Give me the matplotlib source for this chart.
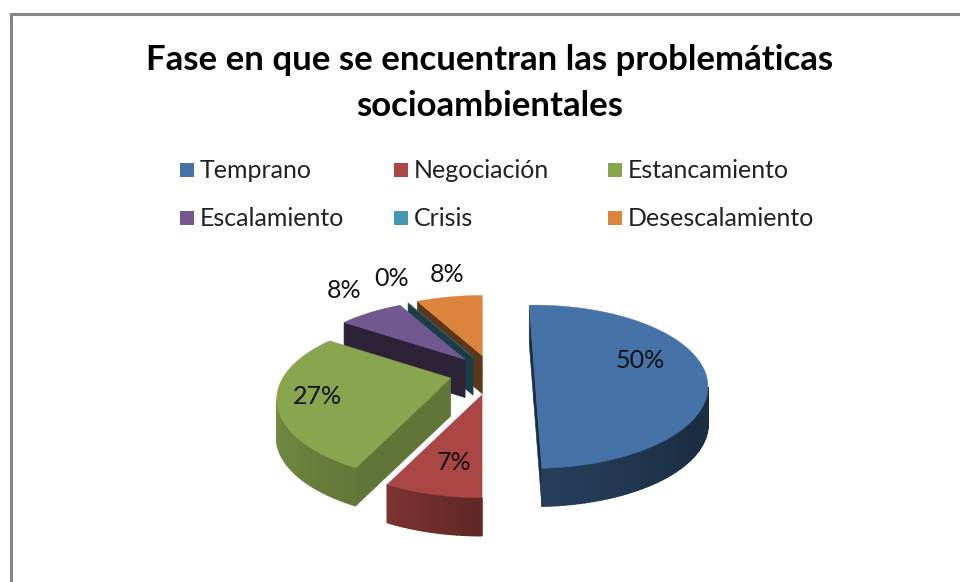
import numpy as np
import matplotlib
matplotlib.use("Agg")
import matplotlib.pyplot as plt

title = "Fase en que se encuentran las problemáticas\nsocioambientales"
categories = ["Temprano", "Negociación", "Estancamiento", "Escalamiento", "Crisis", "Desescalamiento"]
# labels show them rounded
values = [50, 7.1, 27.4, 7.6, 0, 7.9]
colors = ["#4572A7", "#AA4643", "#89A54E", "#71588F", "#4198AF", "#DB843D"]

# label centres in pixels
label_x = [640, 454, 317, 344, 392, 447]
label_y = [361, 462, 396, 291, 278, 275]
label_font = 18

# legend layout in pixels
legend_x = [187, 401, 615, 187, 401, 615]
legend_y = [170, 170, 170, 218, 218, 218]

# fake 3d pie
start_angle = 92
explode = 0.25
cx, cy = 492, 373
rx, ry = 168, 76
persp = 0.262
depth = 38
wall_dark = [0.4, 0.5, 0.71, 0.4, 0.4, 0.42]
nudge_y = [-7, 2, 0, 0, 0, 0]
rotate = [0, -2, -2, -2, -2, -2]
draw_order = [5, 4, 3, 2, 1, 0]


def project(x, y):
    s = 1 / (1 + persp * y)
    return rx * x * s, -ry * y * s


def shade(color, f):
    rgb = np.array(matplotlib.colors.to_rgb(color))
    return tuple(rgb * f)


def rim_factor(a):
    # a in degrees, wrapped to -360..0
    a = (a + 360) % 360 - 360
    return np.interp(a, [-270, -180, -113, -88, -40, 0], [0.8, 0.88, 0.72, 0.55, 0.4, 0.4])


plt.rcParams["font.family"] = ["Lato", "DejaVu Sans"]
fig = plt.figure(figsize=(9.6, 5.82), dpi=100)
ax = fig.add_axes([0, 0, 1, 1])
ax.set_xlim(0, 960)
ax.set_ylim(582, 0)
ax.axis("off")

# chart frame, only top and left are inside the crop
ax.plot([11, 11, 960], [582, 14, 14], color="#868686", lw=2.2, solid_joinstyle="miter")

ax.text(490, 83, title, ha="center", va="center", fontsize=25, fontweight="bold",
        color="black", linespacing=1.55)

for i in range(len(categories)):
    ax.plot(legend_x[i], legend_y[i], "s", color=colors[i], ms=10.2, mew=0)
    ax.text(legend_x[i] + 13, legend_y[i], categories[i], ha="left", va="center",
            fontsize=18, color="#222222")

# slice angles go clockwise from the start angle
total = sum(values)
ends = start_angle - np.cumsum(values) / total * 360
starts = np.concatenate([[start_angle], ends[:-1]])
ends = ends + rotate
starts = starts + rotate

for z, i in enumerate(draw_order):
    mid = np.radians((starts[i] + ends[i]) / 2)
    ox, oy = project(explode * np.cos(mid), explode * np.sin(mid))
    ax0, ay0 = cx + ox, cy + oy + nudge_y[i]
    n = max(2, int(values[i] * 3))
    theta = np.linspace(starts[i], ends[i], n)
    lx, ly = project(np.cos(np.radians(theta)), np.sin(np.radians(theta)))
    px, py = ax0 + lx, ay0 + ly

    # radial walls, only when facing the viewer
    for a, b in [((ax0, ay0), (px[0], py[0])), ((px[-1], py[-1]), (ax0, ay0))]:
        if b[0] - a[0] < 0:
            c = shade(colors[i], wall_dark[i])
            ax.fill([a[0], b[0], b[0], a[0]], [a[1], b[1], b[1] + depth, a[1] + depth],
                    color=c, lw=0.4, zorder=10 + z)

    # outer rim
    for j in range(n - 1):
        if px[j + 1] - px[j] < 0:
            c = shade(colors[i], rim_factor((theta[j] + theta[j + 1]) / 2))
            ax.fill([px[j], px[j + 1], px[j + 1], px[j]],
                    [py[j], py[j + 1], py[j + 1] + depth, py[j] + depth],
                    color=c, lw=1.0, zorder=10 + z)

    # top
    ax.fill(np.r_[ax0, px], np.r_[ay0, py], color=colors[i], lw=0.3, zorder=10 + z)

for i in range(len(values)):
    ax.text(label_x[i], label_y[i], f"{values[i]:.0f}%", ha="center", va="center",
            fontsize=label_font, color="#111111", zorder=50)

fig.savefig("out.png", dpi=100)
